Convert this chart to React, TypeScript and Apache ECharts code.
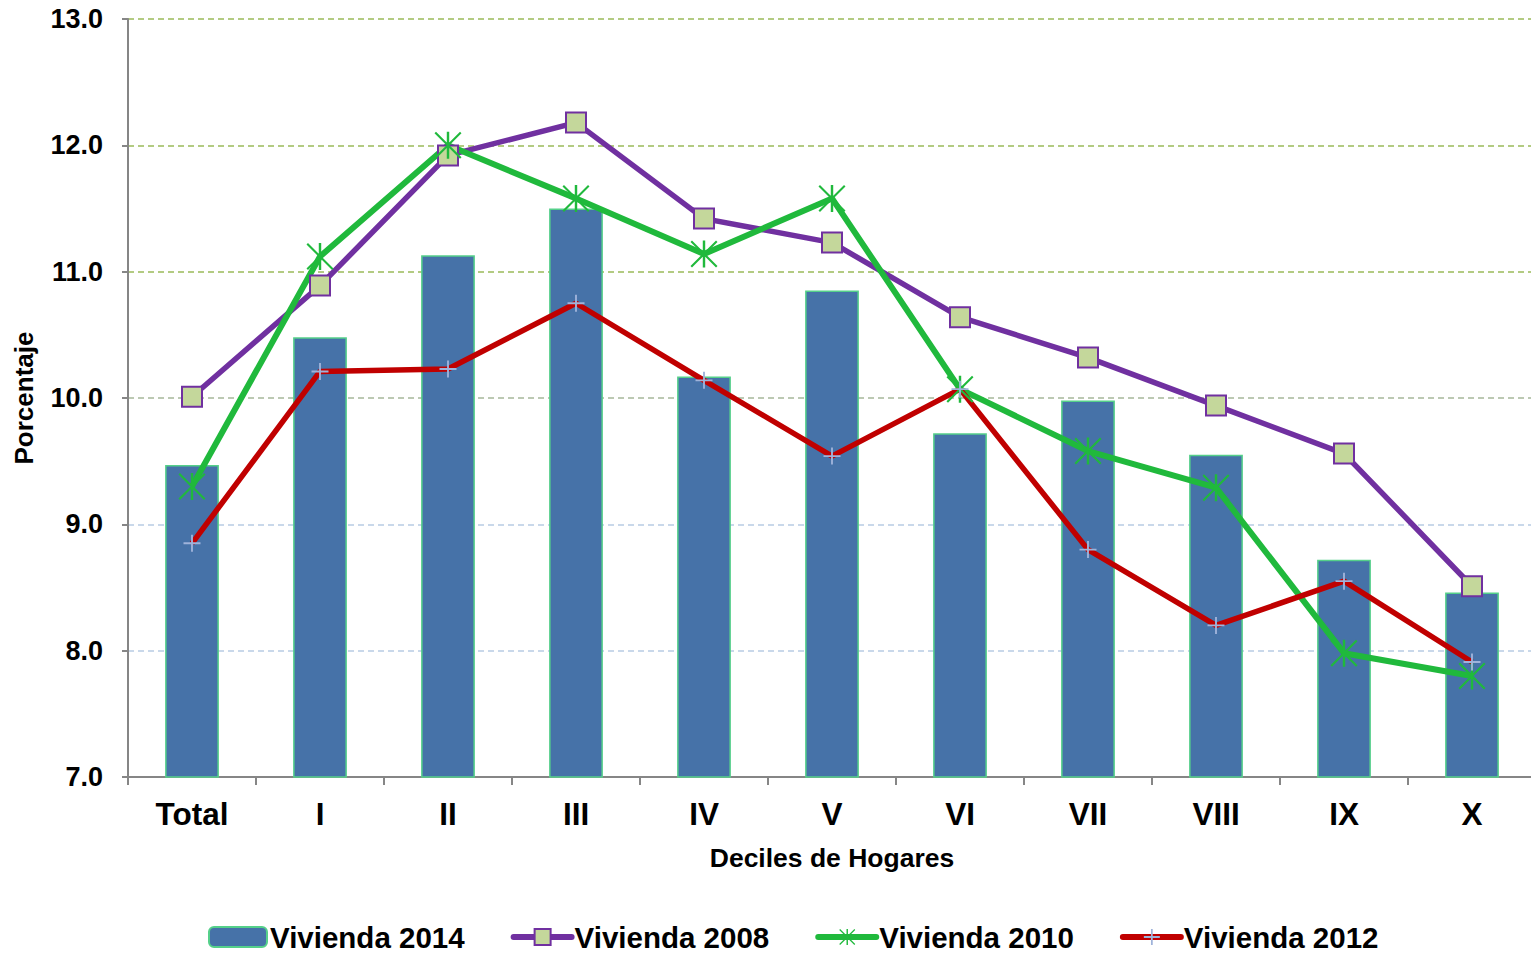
import React, { useEffect, useRef } from "react";
import * as echarts from "echarts";

const categories = ["Total", "I", "II", "III", "IV", "V", "VI", "VII", "VIII", "IX", "X"];
const vivienda2014 = [9.47, 10.48, 11.13, 11.5, 10.17, 10.85, 9.72, 9.98, 9.55, 8.72, 8.46];
const vivienda2008 = [10.01, 10.89, 11.92, 12.18, 11.42, 11.23, 10.64, 10.32, 9.94, 9.56, 8.51];
const vivienda2010 = [9.3, 11.12, 12.0, 11.58, 11.14, 11.58, 10.07, 9.58, 9.29, 7.98, 7.8];
const vivienda2012 = [8.85, 10.21, 10.23, 10.75, 10.14, 9.54, 10.07, 8.8, 8.2, 8.55, 7.91];
const seriesNames = ["Vivienda 2014", "Vivienda 2008", "Vivienda 2010", "Vivienda 2012"];

const FONT = "'Liberation Sans', Arial, Helvetica, sans-serif";

const STAR =
  "path://M9.1,0 L10.9,0 L10.9,20 L9.1,20 Z M0,1.1 L1.1,0 L20,18.9 L18.9,20 Z M18.9,0 L20,1.1 L1.1,20 L0,18.9 Z";
const PLUS =
  "path://M0,8.9 L20,8.9 L20,11.1 L0,11.1 Z M8.9,0 L11.1,0 L11.1,20 L8.9,20 Z";

export default function App() {
  const ref = useRef<HTMLDivElement>(null);
  useEffect(() => {
    if (!ref.current) return;
    const chart = echarts.init(ref.current, undefined, { renderer: "svg" });
    chart.setOption({
      animation: false,
      backgroundColor: "#ffffff",
      grid: { left: 128, right: 0, top: 19, bottom: 176, containLabel: false },
      legend: {
        left: 203,
        top: 917,
        itemWidth: 58,
        itemHeight: 20,
        itemGap: 46,
        lineStyle: { width: 6, cap: "round" },
        textStyle: { fontFamily: FONT, fontSize: 29.5, fontWeight: "bold", color: "#000", padding: [0, 0, 0, -2] },
        data: seriesNames,
      },
      xAxis: {
        type: "category",
        data: categories,
        name: "Deciles de Hogares",
        nameLocation: "middle",
        nameGap: 67,
        nameTextStyle: { fontFamily: FONT, fontSize: 26.5, fontWeight: "bold", color: "#000", padding: [0, 0, 0, 0] },
        axisLine: { show: true, lineStyle: { color: "#868686", width: 2 } },
        axisTick: { show: true, length: 8, lineStyle: { color: "#868686", width: 2 } },
        axisLabel: { fontFamily: FONT, fontSize: 31.5, fontWeight: "bold", color: "#000", margin: 21 },
        splitLine: { show: false },
      },
      yAxis: {
        type: "value",
        min: 7,
        max: 13,
        interval: 1,
        name: "Porcentaje",
        nameLocation: "middle",
        nameGap: 91,
        nameTextStyle: { fontFamily: FONT, fontSize: 26, fontWeight: "bold", color: "#000" },
        axisLine: { show: true, lineStyle: { color: "#868686", width: 2 } },
        axisTick: { show: true, length: 6, lineStyle: { color: "#868686", width: 2 } },
        axisLabel: {
          fontFamily: FONT,
          fontSize: 27,
          fontWeight: "bold",
          color: "#000",
          margin: 25,
          formatter: (v: number) => v.toFixed(1),
        },
        splitLine: {
          show: true,
          lineStyle: {
            color: ["#ffffff", "#B8CCE4", "#B8CCE4", "#A6B89A", "#9BBB59", "#9BBB59", "#9BBB59"],
            type: [6, 4],
            width: 1.5,
          },
        },
      },
      series: [
        {
          name: seriesNames[0],
          type: "bar",
          data: vivienda2014,
          barWidth: "42%",
          itemStyle: { color: "#4672A8", borderColor: "#55D08A", borderWidth: 1.5 },
        },
        {
          name: seriesNames[1],
          type: "line",
          data: vivienda2008,
          symbol: "rect",
          symbolSize: 20,
          lineStyle: { color: "#7030A0", width: 5.5 },
          itemStyle: { color: "#C4D79B", borderColor: "#7030A0", borderWidth: 2 },
        },
        {
          name: seriesNames[2],
          type: "line",
          data: vivienda2010,
          symbol: STAR,
          symbolSize: 27,
          lineStyle: { color: "#20B93C", width: 6 },
          itemStyle: { color: "#20B93C", borderWidth: 0 },
        },
        {
          name: seriesNames[3],
          type: "line",
          data: vivienda2012,
          symbol: PLUS,
          symbolSize: 17,
          lineStyle: { color: "#C00000", width: 5.5 },
          itemStyle: { color: "#9FB3DA", borderWidth: 0 },
        },
      ],
    });
    return () => chart.dispose();
  }, []);
  return (
    <div style={{ position: "absolute", left: 0, top: 0, width: 1531, height: 953, overflow: "hidden" }}>
      <div ref={ref} style={{ width: 1536, height: 953, position: "absolute", left: 0, top: 0 }} />
    </div>
  );
}
